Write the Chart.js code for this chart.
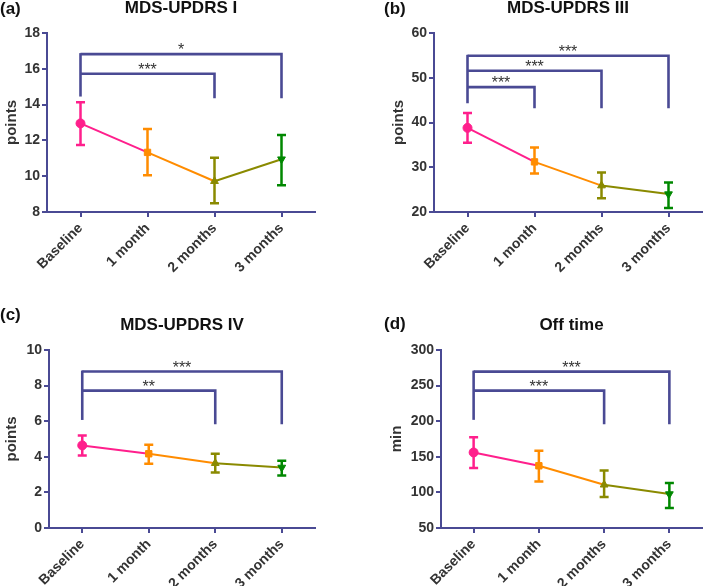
<!DOCTYPE html>
<html><head><meta charset="utf-8">
<script src="https://cdn.jsdelivr.net/npm/chart.js@4.4.1/dist/chart.umd.min.js"></script>
<style>
html,body{margin:0;padding:0;background:#fff;}
#wrap{position:relative;width:709px;height:586px;overflow:hidden;background:#fff;}
canvas{position:absolute;}
</style></head><body>
<div id="wrap">
<canvas id="cA" width="354" height="293" style="left:0;top:0"></canvas>
<canvas id="cB" width="355" height="293" style="left:354px;top:0"></canvas>
<canvas id="cC" width="354" height="293" style="left:0;top:293px"></canvas>
<canvas id="cD" width="355" height="293" style="left:354px;top:293px"></canvas>
</div>
<script>
// ---- data ----
const categories = ['Baseline', '1 month', '2 months', '3 months'];

const meanI  = [12.95, 11.33, 9.72, 10.95];
const lowI   = [11.74, 10.06, 8.49, 9.50];
const highI  = [14.13, 12.64, 11.03, 12.30];
const ticksI = [8, 10, 12, 14, 16, 18];
const brTargetsI = [2, 3];
const brLevelsI  = [15.72, 16.82];
const brStarsI   = ['***', '*'];
const brEndsI    = [14.45, 14.36]; // left leg end, right legs end

const meanIII  = [38.8, 31.2, 25.9, 24.0];
const lowIII   = [35.5, 28.6, 23.1, 20.9];
const highIII  = [42.1, 34.4, 28.8, 26.6];
const ticksIII = [20, 30, 40, 50, 60];
const brTargetsIII = [1, 2, 3];
const brLevelsIII  = [47.9, 51.55, 54.9];
const brStarsIII   = ['***', '***', '***'];
const brEndsIII    = [44.3, 43.2];

const meanIV  = [4.64, 4.17, 3.64, 3.40];
const lowIV   = [4.07, 3.61, 3.12, 2.95];
const highIV  = [5.20, 4.67, 4.17, 3.78];
const ticksIV = [0, 2, 4, 6, 8, 10];
const brTargetsIV = [2, 3];
const brLevelsIV  = [7.72, 8.79];
const brStarsIV   = ['**', '***'];
const brEndsIV    = [6.07, 5.83];

const meanOff  = [156.1, 137.4, 110.7, 97.7];
const lowOff   = [134.1, 115.4, 93.5, 78.0];
const highOff  = [177.6, 158.4, 130.8, 113.1];
const ticksOff = [50, 100, 150, 200, 250, 300];
const brTargetsOff = [2, 3];
const brLevelsOff  = [243, 269.6];
const brStarsOff   = ['***', '***'];
const brEndsOff    = [201.9, 195.8];

// ---- styles ----
const pointColors = ['#ff1f8c', '#ff8c00', '#8a8a00', '#008800'];
const pointShapes = ['circle', 'rect', 'triangle', 'triangle'];
const pointTurns  = [0, 0, 0, 180];
const axisColor = '#4a4a94';
const textColor = '#333333';
const FONT = "'Liberation Sans', Arial, sans-serif";
Chart.defaults.font.family = FONT;
Chart.defaults.color = textColor;

function makePanel(id, cfg) {
  const panelPlugin = {
    id: 'panelDecor_' + id,
    beforeDatasetsDraw(chart) {
      const {ctx, scales: {x, y}} = chart;
      ctx.save();
      ctx.lineWidth = 2.5;
      for (let i = 0; i < cfg.low.length; i++) {
        const px = x.getPixelForValue(i);
        const yl = y.getPixelForValue(cfg.low[i]);
        const yh = y.getPixelForValue(cfg.high[i]);
        ctx.strokeStyle = pointColors[i];
        ctx.beginPath();
        ctx.moveTo(px, yl); ctx.lineTo(px, yh);
        ctx.moveTo(px - 4.5, yl); ctx.lineTo(px + 4.5, yl);
        ctx.moveTo(px - 4.5, yh); ctx.lineTo(px + 4.5, yh);
        ctx.stroke();
      }
      ctx.restore();
    },
    afterDraw(chart) {
      const {ctx, chartArea, scales: {x, y}} = chart;
      ctx.save();
      // brackets
      ctx.strokeStyle = axisColor;
      ctx.lineWidth = 2.6;
      ctx.lineJoin = 'miter';
      const x0 = x.getPixelForValue(0);
      const topLevel = Math.max(...cfg.brLevels);
      ctx.beginPath();
      ctx.moveTo(x0, y.getPixelForValue(cfg.brEnds[0]));
      ctx.lineTo(x0, y.getPixelForValue(topLevel) - 1);
      ctx.stroke();
      ctx.font = '16px ' + FONT;
      ctx.fillStyle = textColor;
      ctx.textAlign = 'center';
      ctx.textBaseline = 'alphabetic';
      for (let k = 0; k < cfg.brTargets.length; k++) {
        const x1 = x.getPixelForValue(cfg.brTargets[k]);
        const yL = y.getPixelForValue(cfg.brLevels[k]);
        const yE = y.getPixelForValue(cfg.brEnds[1]);
        ctx.beginPath();
        ctx.moveTo(x0, yL);
        ctx.lineTo(x1, yL);
        ctx.lineTo(x1, yE);
        ctx.stroke();
        ctx.fillText(cfg.brStars[k], (x0 + x1) / 2, yL + 1);
      }
      // title and panel letter
      ctx.font = 'bold 17px ' + FONT;
      ctx.textBaseline = 'middle';
      ctx.textAlign = 'center';
      ctx.fillStyle = '#111111';
      ctx.fillText(cfg.title, (chartArea.left + chartArea.right) / 2, chartArea.top - 24.5);
      ctx.textAlign = 'left';
      ctx.fillText(cfg.letter, cfg.letterX, cfg.letterY);
      ctx.restore();
    }
  };

  const tickArr = cfg.ticks;
  new Chart(document.getElementById(id), {
    type: 'line',
    data: {
      labels: categories,
      datasets: [{
        data: cfg.mean,
        borderWidth: 2,
        pointRadius: 4.5,
        pointHoverRadius: 4.5,
        pointStyle: pointShapes,
        pointRotation: pointTurns,
        pointBackgroundColor: pointColors,
        pointBorderColor: pointColors,
        pointBorderWidth: 1,
        borderColor: pointColors[0],
        segment: { borderColor: c => pointColors[c.p0DataIndex] },
        tension: 0,
        fill: false
      }]
    },
    options: {
      responsive: false,
      animation: false,
      events: [],
      layout: { padding: { left: 0, right: cfg.padRight, top: cfg.padTop, bottom: 0 } },
      plugins: { legend: { display: false }, title: { display: false }, tooltip: { enabled: false } },
      scales: {
        x: {
          type: 'category',
          offset: true,
          grid: { display: true, drawOnChartArea: false, drawTicks: true, tickLength: 5, offset: false, color: axisColor, lineWidth: 2 },
          border: { display: true, color: axisColor, width: 2 },
          ticks: { autoSkip: false, minRotation: 45, maxRotation: 45, padding: 3, color: textColor, font: { size: 14, weight: 'bold' } },
          afterFit(s) { s.height = cfg.xHeight; }
        },
        y: {
          min: tickArr[0],
          max: tickArr[tickArr.length - 1],
          afterBuildTicks(s) { s.ticks = tickArr.map(v => ({ value: v })); },
          grid: { display: true, drawOnChartArea: false, drawTicks: true, tickLength: 5, color: axisColor, lineWidth: 2 },
          border: { display: true, color: axisColor, width: 2 },
          ticks: { padding: 2, color: textColor, font: { size: 14, weight: 'bold' } },
          title: { display: true, text: cfg.yTitle, color: textColor, padding: { top: cfg.yTitlePad, bottom: 0 }, font: { size: 15, weight: 'bold' } },
          afterFit(s) { s.width = cfg.yWidth; }
        }
      }
    },
    plugins: [panelPlugin]
  });
}

makePanel('cA', { mean: meanI, low: lowI, high: highI, ticks: ticksI,
  brTargets: brTargetsI, brLevels: brLevelsI, brStars: brStarsI, brEnds: brEndsI,
  title: 'MDS-UPDRS I', letter: '(a)', letterX: 0, letterY: 9, yTitle: 'points',
  yWidth: 47, padRight: 39, padTop: 33, xHeight: 81, yTitlePad: 3 });

makePanel('cB', { mean: meanIII, low: lowIII, high: highIII, ticks: ticksIII,
  brTargets: brTargetsIII, brLevels: brLevelsIII, brStars: brStarsIII, brEnds: brEndsIII,
  title: 'MDS-UPDRS III', letter: '(b)', letterX: 30, letterY: 9, yTitle: 'points',
  yWidth: 80, padRight: 7, padTop: 33, xHeight: 81, yTitlePad: 36 });

makePanel('cC', { mean: meanIV, low: lowIV, high: highIV, ticks: ticksIV,
  brTargets: brTargetsIV, brLevels: brLevelsIV, brStars: brStarsIV, brEnds: brEndsIV,
  title: 'MDS-UPDRS IV', letter: '(c)', letterX: 0, letterY: 22, yTitle: 'points',
  yWidth: 49, padRight: 39, padTop: 57, xHeight: 58, yTitlePad: 3 });

makePanel('cD', { mean: meanOff, low: lowOff, high: highOff, ticks: ticksOff,
  brTargets: brTargetsOff, brLevels: brLevelsOff, brStars: brStarsOff, brEnds: brEndsOff,
  title: 'Off time', letter: '(d)', letterX: 30, letterY: 31, yTitle: 'min',
  yWidth: 87, padRight: 7, padTop: 57, xHeight: 58, yTitlePad: 34 });
</script>
</body></html>
